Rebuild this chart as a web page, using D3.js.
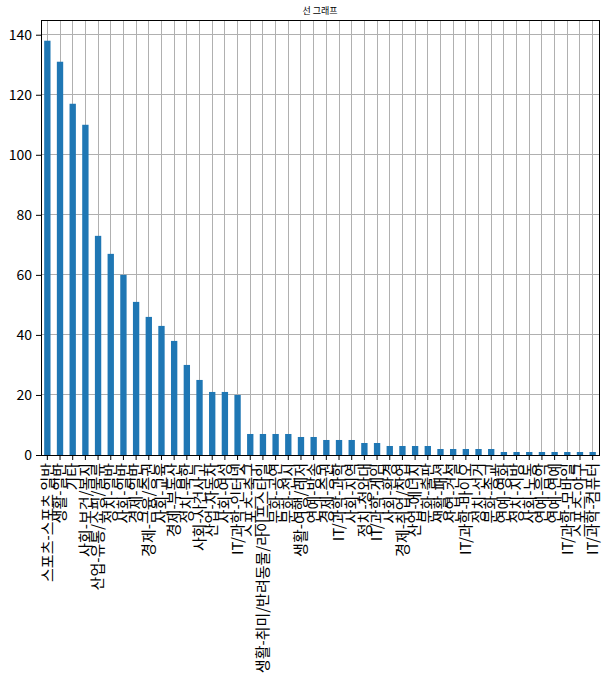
<!DOCTYPE html>
<html>
<head>
<meta charset="utf-8">
<script src="https://cdn.jsdelivr.net/npm/d3@7"></script>
<style>
  html, body { margin: 0; padding: 0; background: #fff; }
  svg { display: block; font-family: "Noto Sans CJK KR", "Noto Sans", sans-serif; }
</style>
</head>
<body>
<svg id="chart" width="607" height="688"></svg>
<script>
const categories = [
  "스포츠-스포츠 일반", "생활-일반", "기타", "사회-보건/복지", "산업-유통/쇼핑/물류",
  "정치-일반", "사회-일반", "경제-일반", "경제-금융/증권", "사회-교육",
  "경제-부동산", "정치-북한", "사회-사건사고", "산업-자동차", "사회-여성",
  "IT/과학-인터넷", "스포츠-축구", "생활-취미/반려동물/라이프스타일", "문화-공연", "문화-전시",
  "생활-여행/레저", "연예-방송", "경제-증권", "IT/과학-과학", "사회-지역",
  "정치-청와대", "IT/과학-게임", "사회-환경", "경제-취업/창업", "산업-에너지",
  "문화-출판", "생활-패션", "산업-건설", "IT/과학-바이오", "정치-선거",
  "문화-종교", "연예-영화", "정치-지방", "사회-노동", "연예-음악",
  "연예-연예", "IT/과학-모바일", "스포츠-야구", "IT/과학-컴퓨터"
];
const counts = [
  138, 131, 117, 110, 73, 67, 60, 51, 46, 43,
  38, 30, 25, 21, 21, 20, 7, 7, 7, 7,
  6, 6, 5, 5, 5, 4, 4, 3, 3, 3,
  3, 2, 2, 2, 2, 2, 1, 1, 1, 1,
  1, 1, 1, 1
];
const yTicks = [0, 20, 40, 60, 80, 100, 120, 140];
const title = "선 그래프";

const svg = d3.select("#chart");
const margin = {left: 41, right: 8, top: 20, bottom: 233};
const W = 607, H = 688;
const x0 = margin.left, x1 = W - margin.right;
const y0 = H - margin.bottom, y1 = margin.top;

const x = d3.scaleBand().domain(categories).range([x0, x1]).paddingInner(0.5).paddingOuter(0.25);
const y = d3.scaleLinear().domain([0, d3.max(counts) * 1.05]).range([y0, y1]);

// grid
const g = svg.append("g");
g.selectAll("line.vg").data(categories).join("line")
  .attr("x1", d => x(d) + x.bandwidth() / 2).attr("x2", d => x(d) + x.bandwidth() / 2)
  .attr("y1", y1).attr("y2", y0)
  .attr("stroke", "#b0b0b0").attr("stroke-width", 1).attr("shape-rendering", "crispEdges");
g.selectAll("line.hg").data(yTicks).join("line")
  .attr("x1", x0).attr("x2", x1)
  .attr("y1", d => y(d)).attr("y2", d => y(d))
  .attr("stroke", "#b0b0b0").attr("stroke-width", 1).attr("shape-rendering", "crispEdges");

// bars
svg.append("g").selectAll("rect").data(counts).join("rect")
  .attr("x", (d, i) => x(categories[i]))
  .attr("width", x.bandwidth())
  .attr("y", d => y(d))
  .attr("height", d => y0 - y(d))
  .attr("fill", "#1f77b4");

// axes
const xAxis = d3.axisBottom(x).tickSize(5).tickPadding(4);
const xg = svg.append("g").attr("transform", `translate(0,${y0})`).call(xAxis);
xg.select(".domain").remove();
xg.selectAll(".tick line").attr("stroke", "#000").attr("stroke-width", 1);
xg.selectAll(".tick text")
  .attr("font-size", 15).attr("fill", "#000")
  .attr("font-family", "'Noto Sans CJK KR', sans-serif")
  .attr("transform", "rotate(-90)")
  .attr("text-anchor", "end")
  .attr("x", -8).attr("y", 0).attr("dy", "0.35em");

const yAxis = d3.axisLeft(y).tickValues(yTicks).tickSize(5).tickPadding(4);
const yg = svg.append("g").attr("transform", `translate(${x0},0)`).call(yAxis);
yg.select(".domain").remove();
yg.selectAll(".tick line").attr("stroke", "#000").attr("stroke-width", 1);
yg.selectAll(".tick text").attr("font-size", 14).attr("fill", "#000")
  .attr("font-family", "'Noto Sans CJK KR', sans-serif");

// frame
svg.append("rect").attr("x", x0).attr("y", y1).attr("width", x1 - x0).attr("height", y0 - y1)
  .attr("fill", "none").attr("stroke", "#000").attr("stroke-width", 1).attr("shape-rendering", "crispEdges");

// title
svg.append("text").attr("x", (x0 + x1) / 2).attr("y", 14).attr("text-anchor", "middle")
  .attr("font-size", 9).attr("fill", "#000").text(title);
</script>
</body>
</html>
